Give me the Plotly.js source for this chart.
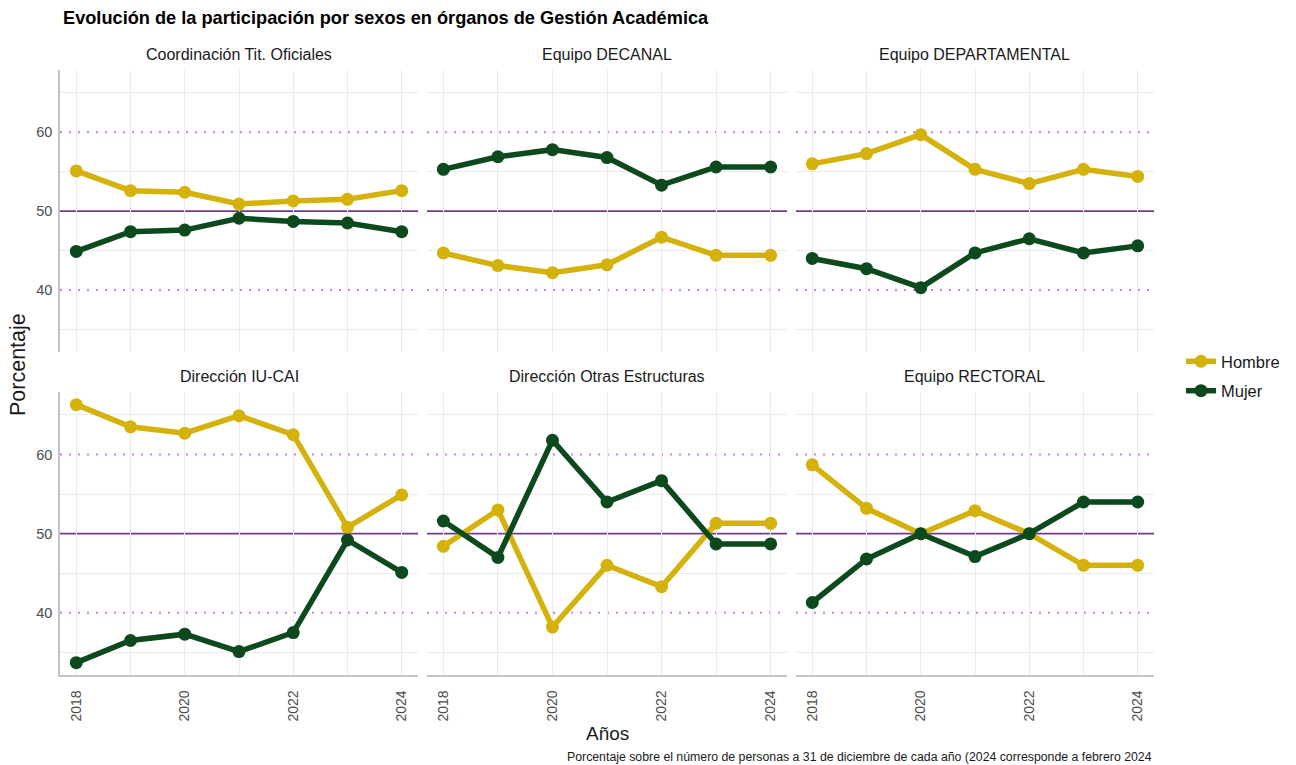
<!DOCTYPE html>
<html>
<head>
<meta charset="utf-8">
<script src="https://cdn.plot.ly/plotly-3.0.1.min.js"></script>
<style>html,body{margin:0;padding:0;background:#fff;}#chart{width:1296px;height:765px;}</style>
</head>
<body>
<div id="chart"></div>
<script>
// ---------- DATA ----------
const years = [2018, 2019, 2020, 2021, 2022, 2023, 2024];
const panelNames = ["Coordinación Tit. Oficiales", "Equipo DECANAL", "Equipo DEPARTAMENTAL",
                    "Dirección IU-CAI", "Dirección Otras Estructuras", "Equipo RECTORAL"];
const series = ["Hombre", "Mujer"];

const hombreCoord   = [55.1, 52.6, 52.4, 50.9, 51.3, 51.5, 52.6];
const mujerCoord    = [44.9, 47.4, 47.6, 49.1, 48.7, 48.5, 47.4];
const hombreDecanal = [44.7, 43.1, 42.2, 43.2, 46.7, 44.4, 44.4];
const mujerDecanal  = [55.3, 56.9, 57.8, 56.8, 53.3, 55.6, 55.6];
const hombreDepart  = [56.0, 57.3, 59.7, 55.3, 53.5, 55.3, 54.4];
const mujerDepart   = [44.0, 42.7, 40.3, 44.7, 46.5, 44.7, 45.6];
const hombreIuCai   = [66.3, 63.5, 62.7, 64.9, 62.5, 50.8, 54.9];
const mujerIuCai    = [33.7, 36.5, 37.3, 35.1, 37.5, 49.2, 45.1];
const hombreOtras   = [48.4, 53.0, 38.2, 46.0, 43.3, 51.3, 51.3];
const mujerOtras    = [51.6, 47.0, 61.8, 54.0, 56.7, 48.7, 48.7];
const hombreRect    = [58.7, 53.2, 50.0, 52.9, 50.0, 46.0, 46.0];
const mujerRect     = [41.3, 46.8, 50.0, 47.1, 50.0, 54.0, 54.0];

const refSolid  = [50];
const refDotted = [40, 60];

const xTickVals = [2018, 2019, 2020, 2021, 2022, 2023, 2024];
const xTickText = ["2018", "", "2020", "", "2022", "", "2024"];
const yTickVals = [40, 50, 60];
const yTickText = ["40", "50", "60"];
const yMinorVals = [35, 45, 55, 65];

const titleText = "Evolución de la participación por sexos en órganos de Gestión Académica";
const xTitle = "Años";
const yTitle = "Porcentaje";
const caption = "Porcentaje sobre el número de personas a 31 de diciembre de cada año (2024 corresponde a febrero 2024";

// ---------- BUILD ----------
const hombreData = [hombreCoord, hombreDecanal, hombreDepart, hombreIuCai, hombreOtras, hombreRect];
const mujerData  = [mujerCoord, mujerDecanal, mujerDepart, mujerIuCai, mujerOtras, mujerRect];
const colors = {Hombre: "#d4b20b", Mujer: "#0c4a1e"};
const FONT = "Liberation Sans, Arial, Helvetica, sans-serif";
const W = 1296, H = 765;

const colPx = [[60, 418], [427, 787], [796, 1154]];
const rowPx = [[70, 352], [392, 675]];

const traces = [];
const layout = {
  width: W, height: H,
  margin: {l: 0, r: 0, t: 0, b: 0},
  paper_bgcolor: "#ffffff", plot_bgcolor: "#ffffff",
  font: {family: FONT, color: "#1a1a1a"},
  showlegend: true,
  legend: {x: 1181 / W, xanchor: "left", y: 1 - 344 / H, yanchor: "top",
           font: {size: 16.5, color: "#1a1a1a", family: FONT}, traceorder: "grouped",
           tracegroupgap: 5, bgcolor: "rgba(0,0,0,0)"},
  shapes: [], annotations: []
};

for (let i = 0; i < 6; i++) {
  const r = Math.floor(i / 3), c = i % 3;
  const sfx = i === 0 ? "" : String(i + 1);
  const xa = "x" + sfx, ya = "y" + sfx;
  const bottom = r === 1, left = c === 0;
  layout["xaxis" + sfx] = {
    domain: [colPx[c][0] / W, colPx[c][1] / W], anchor: ya,
    range: [2017.7, 2024.3], tickmode: "array", tickvals: xTickVals, ticktext: xTickText,
    showticklabels: bottom, tickangle: -90, ticks: "",
    ticklabelstandoff: 8,
    tickfont: {size: 14, color: "#4d4d4d", family: FONT},
    showgrid: true, gridcolor: "#ebebeb", gridwidth: 1, zeroline: false,
    showline: bottom, linecolor: "#c4c4c4", linewidth: 1.5, fixedrange: true
  };
  layout["yaxis" + sfx] = {
    domain: [1 - rowPx[r][1] / H, 1 - rowPx[r][0] / H], anchor: xa,
    range: [32.14, 67.9], tickmode: "array", tickvals: yTickVals, ticktext: yTickText,
    showticklabels: left, ticks: "", ticklabelstandoff: 3,
    tickfont: {size: 14.5, color: "#4d4d4d", family: FONT},
    showgrid: false, zeroline: false,
    minor: {tickmode: "array", tickvals: yMinorVals, showgrid: true,
            gridcolor: "#ebebeb", gridwidth: 1, ticks: ""},
    showline: left, linecolor: "#c4c4c4", linewidth: 1.5, fixedrange: true
  };
  // reference lines
  refSolid.forEach(v => layout.shapes.push({
    type: "line", xref: xa + " domain", yref: ya, x0: 0, x1: 1, y0: v, y1: v,
    line: {color: "#733a8e", width: 1.8}, layer: "below"
  }));
  refDotted.forEach(v => layout.shapes.push({
    type: "line", xref: xa + " domain", yref: ya, x0: 0, x1: 1, y0: v, y1: v,
    line: {color: "#cf7ee9", width: 2, dash: "2px,7px"}, layer: "below"
  }));
  // strip title
  layout.annotations.push({
    text: panelNames[i], xref: xa + " domain", yref: ya + " domain", x: 0.5, y: 1,
    xanchor: "center", yanchor: "bottom", yshift: 5, showarrow: false,
    font: {size: 16, color: "#1a1a1a", family: FONT}
  });
  const dataSets = [hombreData[i], mujerData[i]];
  series.forEach((s, k) => {
    traces.push({
      type: "scatter", mode: "lines+markers", name: s, x: years, y: dataSets[k],
      xaxis: xa, yaxis: ya, legendgroup: s, showlegend: i === 0,
      line: {color: colors[s], width: 5.5}, marker: {color: colors[s], size: 13},
      hoverinfo: "x+y+name"
    });
  });
}

layout.annotations.push(
  {text: "<b>" + titleText + "</b>", xref: "paper", yref: "paper", x: 61 / W, y: 1 - 18 / H,
   xanchor: "left", yanchor: "middle", showarrow: false,
   font: {size: 18.2, color: "#000000", family: FONT}},
  {text: xTitle, xref: "paper", yref: "paper", x: 607 / W, y: 1 - 733 / H,
   xanchor: "center", yanchor: "middle", showarrow: false,
   font: {size: 19, color: "#1a1a1a", family: FONT}},
  {text: yTitle, xref: "paper", yref: "paper", x: 18 / W, y: 1 - 365 / H, textangle: -90,
   xanchor: "center", yanchor: "middle", showarrow: false,
   font: {size: 21.5, color: "#1a1a1a", family: FONT}},
  {text: caption, xref: "paper", yref: "paper", x: 1154 / W, y: 1 - 757 / H,
   xanchor: "right", yanchor: "middle", showarrow: false,
   font: {size: 12.3, color: "#1a1a1a", family: FONT}}
);

Plotly.newPlot("chart", traces, layout, {displayModeBar: false, staticPlot: false});
</script>
</body>
</html>
